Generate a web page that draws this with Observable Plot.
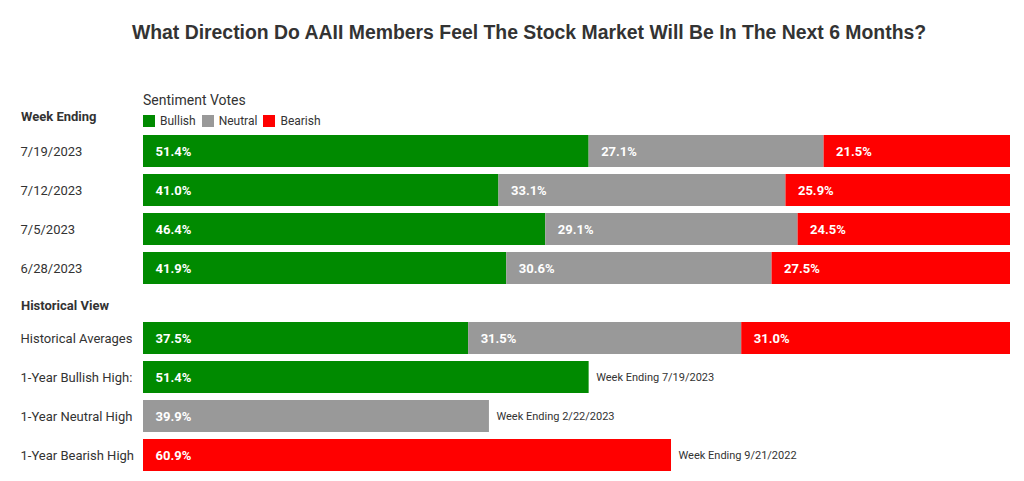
<!DOCTYPE html>
<html><head><meta charset="utf-8">
<script src="https://cdn.jsdelivr.net/npm/d3@7"></script>
<script src="https://cdn.jsdelivr.net/npm/@observablehq/plot@0.6"></script>
<style>
body{margin:0;background:#fff;font-family:Roboto,"Noto Sans",sans-serif;color:#333;width:1024px;height:481px;overflow:hidden}
#title{font:bold 19.4px "Liberation Sans",Arial,sans-serif;height:64px;line-height:64px;text-align:center;color:#333;padding-left:34px}
#head{position:relative;height:67px}
#we{position:absolute;left:21px;top:45px;font-weight:bold;font-size:13px}
#sv{position:absolute;left:143px;top:28px;font-size:14px}
#leg{position:absolute;left:143px;top:50px;font-size:12px;display:flex;align-items:center;gap:3px}
#leg span.sw{display:inline-block;width:12px;height:12px;margin-right:2px}
#leg span.lb{margin-right:3px}
#hv{height:31px;position:relative}
#hv div{position:absolute;left:21px;top:11px;font-weight:bold;font-size:13px}
</style></head>
<body>
<div id="title">What Direction Do AAII Members Feel The Stock Market Will Be In The Next 6 Months?</div>
<div id="head"><div id="we">Week Ending</div><div id="sv">Sentiment Votes</div><div id="leg"></div></div>
<div id="chart1"></div>
<div id="hv"><div>Historical View</div></div>
<div id="chart2"></div>
<script>
const sentiments = ["Bullish", "Neutral", "Bearish"];
const colors = ["#008a00", "#999999", "#ff0000"];
const weeks = ["7/19/2023", "7/12/2023", "7/5/2023", "6/28/2023"];
const bullish = [51.4, 41.0, 46.4, 41.9];
const neutral = [27.1, 33.1, 29.1, 30.6];
const bearish = [21.5, 25.9, 24.5, 27.5];
const avgLabel = "Historical Averages";
const avgValues = [37.5, 31.5, 31.0];
const highLabels = ["1-Year Bullish High:", "1-Year Neutral High", "1-Year Bearish High"];
const highValues = [51.4, 39.9, 60.9];
const highDates = ["Week Ending 7/19/2023", "Week Ending 2/22/2023", "Week Ending 9/21/2022"];

// legend
const leg = document.getElementById("leg");
sentiments.forEach((s, i) => {
  leg.insertAdjacentHTML("beforeend", `<span class="sw" style="background:${colors[i]}"></span><span class="lb">${s}</span>`);
});

const weekly = [];
weeks.forEach((w, i) => {
  [bullish[i], neutral[i], bearish[i]].forEach((v, j) => weekly.push({row: w, sentiment: sentiments[j], value: v}));
});
const avg = avgValues.map((v, j) => ({row: avgLabel, sentiment: sentiments[j], value: v}));
const highs = highLabels.map((l, j) => ({row: l, sentiment: sentiments[j], value: highValues[j], note: highDates[j]}));

const fmt = d => d.toFixed(1) + "%";
const labelStyle = {fill: "white", fontWeight: "bold", fontSize: 13, textAnchor: "start", dx: 12};

function makePlot(domain, stacked, singles) {
  return Plot.plot({
    width: 1024,
    height: 156,
    marginTop: 0,
    marginBottom: 0,
    marginLeft: 143,
    marginRight: 14,
    style: {fontFamily: "Roboto, 'Noto Sans', sans-serif", color: "#333", background: "#fff"},
    x: {domain: [0, 100], axis: null},
    y: {domain, paddingInner: 0.18, paddingOuter: 0.09, align: 0.5, label: null},
    color: {domain: sentiments, range: colors},
    marks: [
      Plot.barX(stacked, Plot.stackX({x: "value", y: "row", fill: "sentiment", order: sentiments})),
      Plot.text(stacked, Plot.stackX1({x: "value", y: "row", z: "sentiment", order: sentiments, text: d => fmt(d.value), ...labelStyle})),
      Plot.barX(singles, {x: "value", y: "row", fill: "sentiment"}),
      Plot.text(singles, {x: 0, y: "row", text: d => fmt(d.value), ...labelStyle}),
      Plot.text(singles, {x: "value", y: "row", text: "note", fill: "#333", fontSize: 11, textAnchor: "start", dx: 7}),
      Plot.axisY({tickSize: 0, textAnchor: "start", dx: -114, fontSize: 13})
    ]
  });
}

document.getElementById("chart1").append(makePlot(weeks, weekly, []));
document.getElementById("chart2").append(makePlot([avgLabel, ...highLabels], avg, highs));
</script>
</body></html>
